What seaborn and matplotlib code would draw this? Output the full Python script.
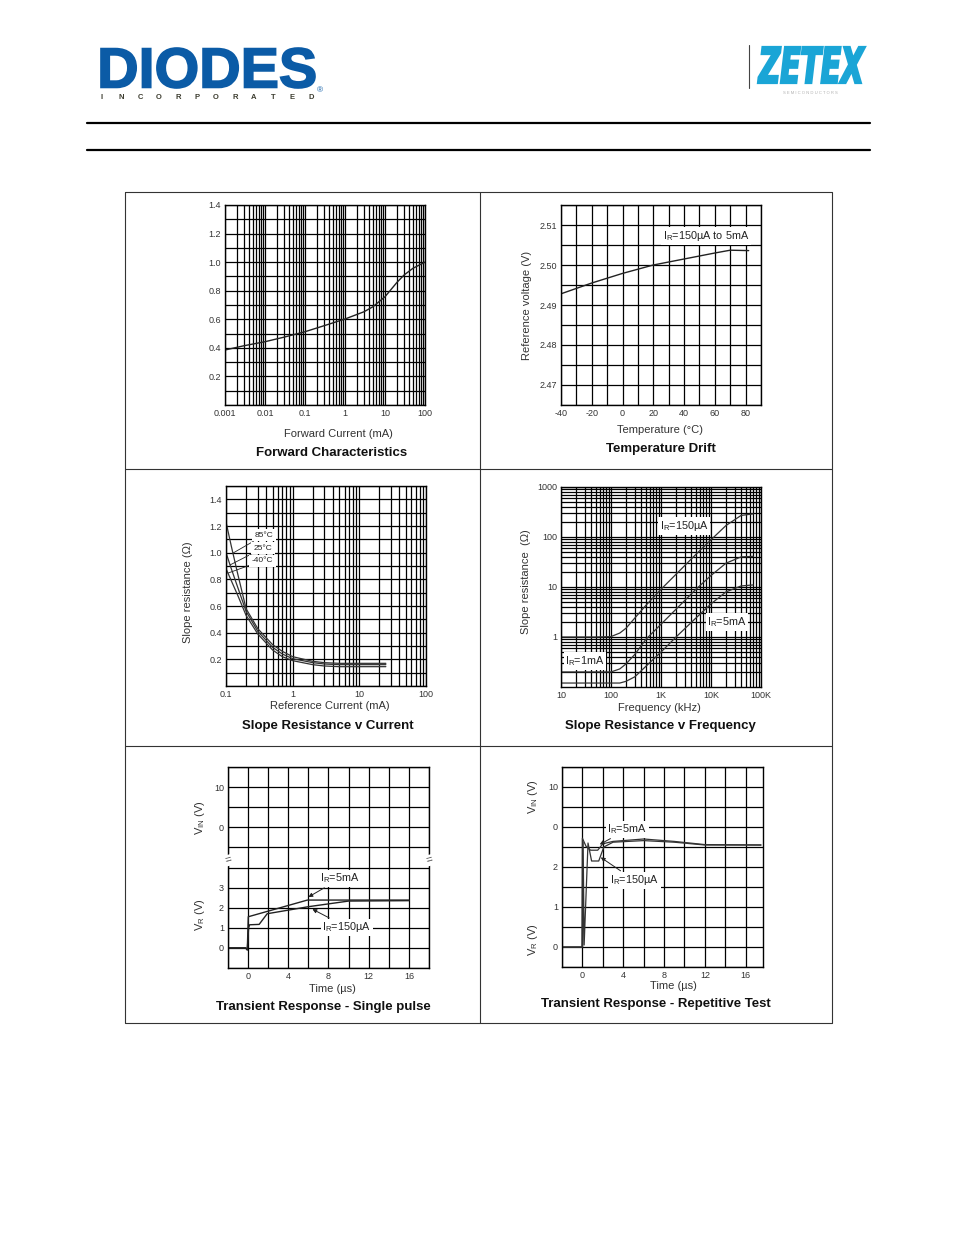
import numpy as np
import pandas as pd
import seaborn as sns
import matplotlib
matplotlib.use('Agg')
import matplotlib.pyplot as plt
from matplotlib.ticker import LogLocator, NullFormatter, MultipleLocator
from matplotlib.textpath import TextPath
from matplotlib.patches import PathPatch
from matplotlib.font_manager import FontProperties
from matplotlib.transforms import Affine2D

# ---- data ----
fwd_current = [0.001, 0.003, 0.01, 0.03, 0.1, 0.3, 1, 3, 5, 10, 20, 30, 50, 100]
fwd_voltage = [0.385, 0.415, 0.443, 0.475, 0.513, 0.555, 0.602, 0.653, 0.688, 0.758, 0.859, 0.91, 0.957, 1.0]
fwd_xticks = [0.001, 0.01, 0.1, 1, 10, 100]
fwd_xlabels = ['0.001', '0.01', '0.1', '1', '10', '100']

temp_c = [-40, -20, 0, 20, 40, 60, 70, 82]
vref = [2.4928, 2.4955, 2.4979, 2.5, 2.5015, 2.503, 2.5037, 2.5036]

iref_ma = [0.1, 0.12, 0.15, 0.2, 0.3, 0.5, 0.7, 1, 2, 3, 5, 10, 25]
rs_85 = [1.23, 1.05, 0.84, 0.58, 0.43, 0.31, 0.26, 0.22, 0.185, 0.175, 0.17, 0.17, 0.17]
rs_25 = [1.0, 0.88, 0.74, 0.56, 0.41, 0.29, 0.24, 0.205, 0.175, 0.165, 0.16, 0.16, 0.16]
rs_m40 = [0.88, 0.79, 0.68, 0.53, 0.39, 0.27, 0.22, 0.19, 0.16, 0.15, 0.145, 0.145, 0.145]
cur_xticks = [0.1, 1, 10, 100]
cur_xlabels = ['0.1', '1', '10', '100']

freq_khz = [10, 50, 100, 150, 200, 300, 500, 1000, 2000, 5000, 10000, 20000, 40000, 70000]
rs_150u = [1.0, 1.0, 1.02, 1.2, 1.5, 2.4, 4.3, 9, 18, 45, 88, 170, 270, 290]
rs_1m = [0.2, 0.2, 0.2, 0.23, 0.29, 0.45, 0.9, 1.8, 3.6, 9, 17, 30, 40, 41]
rs_5m = [0.12, 0.12, 0.12, 0.12, 0.13, 0.16, 0.26, 0.5, 1.0, 2.4, 4.6, 8, 10.5, 11]
freq_xticks = [10, 100, 1000, 10000, 100000]
freq_xlabels = ['10', '100', '1K', '10K', '100K']
freq_yticks = [1, 10, 100, 1000]
freq_ylabels = ['1', '10', '100', '1000']

t_single_5m = [-2, -0.25, -0.08, 0.02, 5.9, 16]
v_single_5m = [0, 0, -0.1, 1.55, 2.38, 2.38]
t_single_150u = [-2, -0.25, -0.08, 0.05, 0.15, 1.1, 1.9, 6, 10, 16]
v_single_150u = [0, 0, -0.1, 1.0, 1.15, 1.17, 1.7, 2.05, 2.33, 2.35]
single_yticks = [-1, 0, 1, 2, 3, 4, 5, 6, 7, 8, 9]
single_ylabels = ['', '0', '1', '2', '3', '', '', '0', '', '10', '']

t_rep_5m = [-2, -0.05, 0.0, 0.35, 0.8, 1.5, 2.0, 3, 6, 9, 12, 17.5]
v_rep_5m = [0, 0, 2.72, 2.52, 2.42, 2.42, 2.58, 2.64, 2.7, 2.64, 2.56, 2.55]
t_rep_150u = [-2, 0.02, 0.07, 0.17, 0.55, 0.9, 1.6, 2.1, 3, 6, 9, 12, 17.5]
v_rep_150u = [0, 0, 2.62, 0.05, 2.6, 2.15, 2.15, 2.5, 2.62, 2.66, 2.62, 2.55, 2.55]
rep_yticks = [-0.5, 0, 0.5, 1, 1.5, 2, 2.5, 3, 3.5, 4, 4.5]
rep_ylabels = ['', '0', '', '1', '', '2', '', '0', '', '10', '']

time_xticks = [-2, 0, 2, 4, 6, 8, 10, 12, 14, 16, 18]
time_xlabels = ['', '0', '', '4', '', '8', '', '12', '', '16', '']

sns.set_theme(style='white')
plt.rcParams['font.family'] = ['Liberation Sans', 'DejaVu Sans']
plt.rcParams['axes.unicode_minus'] = False
plt.rcParams['mathtext.fontset'] = 'custom'
plt.rcParams['mathtext.rm'] = 'Liberation Sans'
plt.rcParams['mathtext.it'] = 'Liberation Sans:italic'
plt.rcParams['mathtext.bf'] = 'Liberation Sans:bold'

W, H = 954, 1235
fig = plt.figure(figsize=(W / 100, H / 100), dpi=100)
LC = '#222222'


def rect(x0, y0, x1, y1):
    return [x0 / W, 1 - y1 / H, (x1 - x0) / W, (y1 - y0) / H]


def ftext(x, y, s, **kw):
    kw.setdefault('ha', 'center')
    kw.setdefault('va', 'center')
    fig.text(x / W, 1 - y / H, s, **kw)


def style(ax):
    ax.grid(True, which='both', color='black', lw=0.9)
    ax.tick_params(which='both', length=0, labelsize=6.5, labelcolor='#333333', pad=3)
    for s in ax.spines.values():
        s.set_color('black')
        s.set_linewidth(1.0)
    ax.set_xlabel('')
    ax.set_ylabel('')


def log_minor(axis):
    axis.set_minor_locator(LogLocator(base=10, subs=np.arange(2, 10), numticks=30))
    axis.set_minor_formatter(NullFormatter())


# ---- page furniture ----
bg = fig.add_axes([0, 0, 1, 1])
bg.set_xlim(0, W)
bg.set_ylim(H, 0)
bg.axis('off')


def logo(s, box, color, edge, **fp):
    tp = TextPath((0, 0), s, size=100, prop=FontProperties(**fp))
    e = tp.get_extents()
    tr = (Affine2D().translate(-e.x0, -e.y0)
          .scale((box[2] - box[0]) / e.width, -(box[3] - box[1]) / e.height)
          .translate(box[0], box[3]) + bg.transData)
    bg.add_patch(PathPatch(tp, transform=tr, fc=color, ec=color, lw=edge))


logo('DIODES', (101, 48, 315, 88), '#0b5ba6', 1.2, family='Liberation Sans', weight='bold')
logo('ZETEX', (758, 47, 865, 83), '#1aa5d6', 1.6, family='DejaVu Sans', weight='bold', style='oblique')
for i, ch in enumerate('INCORPORATED'):
    ftext(102 + i * 19.0, 97.5, ch, fontsize=5.5, weight='bold', color='#3d3d30')
ftext(320, 91, '®', fontsize=6, color='#0b5ba6')
ftext(810, 93, 'S E M I C O N D U C T O R S', fontsize=3, color='#b0b0b0')
bg.plot([749, 749], [45, 88], color='#444444', lw=0.8)
bg.plot([87, 870], [123, 123], color='black', lw=1.6)
bg.plot([87, 870], [150, 150], color='black', lw=1.6)
bg.plot([125, 832, 832, 125, 125], [192, 192, 1023, 1023, 192], color='#333333', lw=0.8)
bg.plot([480, 480], [192, 1023], color='#333333', lw=0.8)
bg.plot([125, 832], [469, 469], color='#333333', lw=0.8)
bg.plot([125, 832], [746, 746], color='#333333', lw=0.8)

lab_kw = dict(fontsize=8, color='#333333')
tit_kw = dict(fontsize=9.5, weight='bold', color='#111111')
box = dict(boxstyle='square,pad=0.15', fc='white', ec='none')

# ---- Forward Characteristics ----
ax1 = fig.add_axes(rect(225, 205, 425, 405))
sns.lineplot(x=fwd_current, y=fwd_voltage, ax=ax1, color=LC, lw=1.0, estimator=None, sort=False)
ax1.set_xscale('log')
ax1.set_xlim(0.001, 100)
ax1.set_ylim(0, 1.4)
ax1.set_xticks(fwd_xticks, labels=fwd_xlabels)
log_minor(ax1.xaxis)
ax1.set_yticks(np.arange(0.2, 1.41, 0.2), labels=[f'{v:.1f}' for v in np.arange(0.2, 1.41, 0.2)])
ax1.yaxis.set_minor_locator(MultipleLocator(0.1))
style(ax1)
ftext(338, 434, 'Forward Current (mA)', **lab_kw)
ftext(332, 453, 'Forward Characteristics', **tit_kw)

# ---- Temperature Drift ----
ax2 = fig.add_axes(rect(561, 205, 761, 405))
sns.lineplot(x=temp_c, y=vref, ax=ax2, color=LC, lw=1.0, estimator=None, sort=False)
ax2.set_xlim(-40, 90)
ax2.set_ylim(2.465, 2.515)
ax2.set_xticks(np.arange(-40, 81, 20), labels=[str(v) for v in range(-40, 81, 20)])
ax2.xaxis.set_minor_locator(MultipleLocator(10))
ax2.set_yticks(np.arange(2.47, 2.5101, 0.01), labels=['2.47', '2.48', '2.49', '2.50', '2.51'])
ax2.yaxis.set_minor_locator(MultipleLocator(0.005))
style(ax2)
ax2.text(0.725, 0.845, r'I$_{\mathrm{R}}$=150µA to 5mA', transform=ax2.transAxes, ha='center',
         va='center', fontsize=7.8, color='#222222', bbox=box)
ftext(527, 305, 'Reference voltage (V)', rotation=90, **lab_kw)
ftext(660, 430, 'Temperature (°C)', **lab_kw)
ftext(661, 449, 'Temperature Drift', **tit_kw)

# ---- Slope Resistance v Current ----
ax3 = fig.add_axes(rect(226, 486, 426, 686))
for rs in (rs_85, rs_25, rs_m40):
    sns.lineplot(x=iref_ma, y=rs, ax=ax3, color='#333333', lw=0.9, estimator=None, sort=False)
ax3.set_xscale('log')
ax3.set_xlim(0.1, 100)
ax3.set_ylim(0, 1.5)
ax3.set_xticks(cur_xticks, labels=cur_xlabels)
log_minor(ax3.xaxis)
ax3.set_yticks(np.arange(0.2, 1.41, 0.2), labels=[f'{v:.1f}' for v in np.arange(0.2, 1.41, 0.2)])
ax3.yaxis.set_minor_locator(MultipleLocator(0.1))
style(ax3)
small_box = dict(boxstyle='square,pad=0.3', fc='white', ec='none')
for rs, name, tip, pos in ((rs_85, '85°C', 0.127, (0.37, 1.13)),
                           (rs_25, '25°C', 0.115, (0.36, 1.035)),
                           (rs_m40, '-40°C', 0.107, (0.35, 0.94))):
    yv = np.interp(np.log10(tip), np.log10(iref_ma), rs)
    ax3.annotate(name, xy=(tip, yv), xytext=pos, ha='center', va='center', fontsize=6,
                 color='#222222', bbox=small_box,
                 arrowprops=dict(arrowstyle='-', lw=0.6, color='#222222', shrinkA=0, shrinkB=0))
ftext(188, 592, 'Slope resistance (Ω)', rotation=90, **lab_kw)
ftext(330, 706, 'Reference Current (mA)', **lab_kw)
ftext(328, 726, 'Slope Resistance v Current', **tit_kw)

# ---- Slope Resistance v Frequency ----
ax4 = fig.add_axes(rect(561, 487, 761, 687))
for rs in (rs_150u, rs_1m, rs_5m):
    sns.lineplot(x=freq_khz, y=rs, ax=ax4, color='#333333', lw=0.9, estimator=None, sort=False)
ax4.set_xscale('log')
ax4.set_yscale('log')
ax4.set_xlim(10, 100000)
ax4.set_ylim(0.1, 1000)
ax4.set_xticks(freq_xticks, labels=freq_xlabels)
ax4.set_yticks(freq_yticks, labels=freq_ylabels)
log_minor(ax4.xaxis)
log_minor(ax4.yaxis)
style(ax4)
for s, x, y in ((r'I$_{\mathrm{R}}$=150µA', 0.615, 0.805),
                (r'I$_{\mathrm{R}}$=5mA', 0.83, 0.325),
                (r'I$_{\mathrm{R}}$=1mA', 0.12, 0.13)):
    ax4.text(x, y, s, transform=ax4.transAxes, ha='center', va='center', fontsize=7.8,
             color='#222222', bbox=box)
ftext(526, 582, 'Slope resistance  (Ω)', rotation=90, **lab_kw)
ftext(659, 708, 'Frequency (kHz)', **lab_kw)
ftext(660, 726, 'Slope Resistance v Frequency', **tit_kw)

# ---- Transient Response - Single pulse ----
arrow = dict(arrowstyle='-|>', lw=0.7, color='#222222', mutation_scale=6, shrinkA=1, shrinkB=0)
ax5 = fig.add_axes(rect(228, 767, 429, 968))
sns.lineplot(x=t_single_5m, y=v_single_5m, ax=ax5, color=LC, lw=1.0, estimator=None, sort=False)
sns.lineplot(x=t_single_150u, y=v_single_150u, ax=ax5, color=LC, lw=1.0, estimator=None, sort=False)
ax5.set_xlim(-2, 18)
ax5.set_ylim(-1, 9)
ax5.set_xticks(time_xticks, labels=time_xlabels)
ax5.set_yticks(single_yticks, labels=single_ylabels)
style(ax5)
for xa in (0, 1):
    ax5.text(xa, 4.35, '=', transform=ax5.get_yaxis_transform(), ha='center', va='center',
             fontsize=8, color='#444444', rotation=15,
             bbox=dict(boxstyle='square,pad=0.05', fc='white', ec='none'))
ax5.annotate(r'I$_{\mathrm{R}}$=5mA', xy=(6.0, np.interp(6.0, t_single_5m, v_single_5m) + 0.15),
             xytext=(7.2, 3.45), ha='left', va='center', fontsize=7.8, color='#222222',
             bbox=box, arrowprops=arrow)
ax5.annotate(r'I$_{\mathrm{R}}$=150µA', xy=(6.4, np.interp(6.4, t_single_150u, v_single_150u) - 0.15),
             xytext=(7.4, 1.03), ha='left', va='center', fontsize=7.8, color='#222222',
             bbox=box, arrowprops=arrow)
ftext(200, 818, r'V$_{\mathrm{IN}}$ (V)', rotation=90, **lab_kw)
ftext(200, 915, r'V$_{\mathrm{R}}$ (V)', rotation=90, **lab_kw)
ftext(332, 989, 'Time (µs)', **lab_kw)
ftext(323, 1007, 'Transient Response - Single pulse', **tit_kw)

# ---- Transient Response - Repetitive Test ----
ax6 = fig.add_axes(rect(562, 767, 763, 967))
sns.lineplot(x=t_rep_5m, y=v_rep_5m, ax=ax6, color='#333333', lw=0.9, estimator=None, sort=False)
sns.lineplot(x=t_rep_150u, y=v_rep_150u, ax=ax6, color='#333333', lw=0.9, estimator=None, sort=False)
ax6.set_xlim(-2, 17.7)
ax6.set_ylim(-0.5, 4.5)
ax6.set_xticks(time_xticks[:-1], labels=time_xlabels[:-1])
ax6.set_yticks(rep_yticks, labels=rep_ylabels)
style(ax6)
ax6.annotate(r'I$_{\mathrm{R}}$=5mA', xy=(1.7, np.interp(1.7, t_rep_5m, v_rep_5m) + 0.08),
             xytext=(4.4, 2.94), ha='center', va='center', fontsize=7.8, color='#222222',
             bbox=box, arrowprops=arrow)
ax6.annotate(r'I$_{\mathrm{R}}$=150µA', xy=(1.8, np.interp(1.8, t_rep_150u, v_rep_150u) - 0.05),
             xytext=(5.1, 1.67), ha='center', va='center', fontsize=7.8, color='#222222',
             bbox=box, arrowprops=arrow)
ftext(533, 797, r'V$_{\mathrm{IN}}$ (V)', rotation=90, **lab_kw)
ftext(533, 940, r'V$_{\mathrm{R}}$ (V)', rotation=90, **lab_kw)
ftext(673, 986, 'Time (µs)', **lab_kw)
ftext(656, 1004, 'Transient Response - Repetitive Test', **tit_kw)

fig.savefig('out.png', dpi=100)
